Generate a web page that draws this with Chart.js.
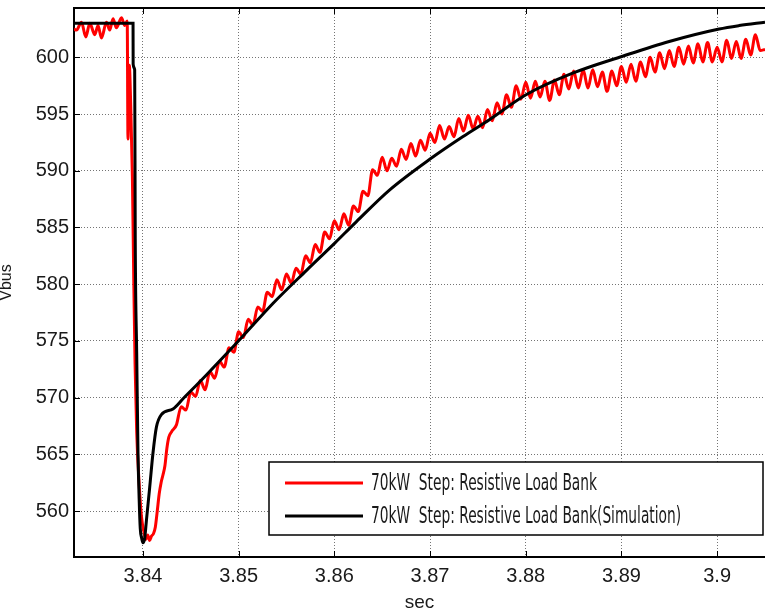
<!DOCTYPE html>
<html><head><meta charset="utf-8">
<script src="https://cdn.jsdelivr.net/npm/chart.js@4.4.1/dist/chart.umd.min.js"></script>
<style>html,body{margin:0;padding:0;background:#fff;}#wrap{width:765px;height:612px;}</style>
</head><body><div id="wrap"><canvas id="c" width="765" height="612"></canvas></div>
<script>
const xTickValues = [3.84, 3.85, 3.86, 3.87, 3.88, 3.89, 3.90];
const xTickLabels = ['3.84', '3.85', '3.86', '3.87', '3.88', '3.89', '3.9'];
const yTickValues = [560, 565, 570, 575, 580, 585, 590, 595, 600];
const seriesNames = ['70kW  Step: Resistive Load Bank', '70kW  Step: Resistive Load Bank(Simulation)'];
const xLabel = 'sec';
const yLabel = 'Vbus';

// measured (red)
const redTime = [3.8328, 3.83306, 3.83358, 3.83403, 3.83445, 3.83497, 3.83531, 3.83567, 3.83619, 3.83653,
  3.83688, 3.83723, 3.83776, 3.83810, 3.83836, 3.83844, 3.83858, 3.83872, 3.83890, 3.83905,
  3.83918, 3.83935, 3.83960, 3.83985, 3.84010, 3.84030, 3.84050, 3.84070, 3.84090, 3.84110,
  3.84130, 3.84150, 3.84170, 3.84190, 3.84210, 3.84230, 3.84250, 3.84270,
  3.8430, 3.8435, 3.8440, 3.8445, 3.8450, 3.8455, 3.8460, 3.8465, 3.8470, 3.8475,
  3.8480, 3.8485, 3.8490, 3.8495, 3.8500, 3.8505, 3.8510, 3.8515, 3.8520, 3.8525,
  3.8530, 3.8535, 3.8540, 3.8545, 3.8550, 3.8555, 3.8560, 3.8565, 3.8570, 3.8575,
  3.8580, 3.8585, 3.8590, 3.8595, 3.8600, 3.8605, 3.8610, 3.8615, 3.8620, 3.8625,
  3.8630, 3.8635, 3.8640, 3.8645, 3.8650, 3.8655, 3.8660, 3.8665, 3.8670, 3.8675,
  3.8680, 3.8685, 3.8690, 3.8695, 3.8700, 3.8705, 3.8710, 3.8715, 3.8720, 3.8725,
  3.8730, 3.8735, 3.8740, 3.8745, 3.8750, 3.8755, 3.8760, 3.8765, 3.8770, 3.8775,
  3.8780, 3.8785, 3.8790, 3.8795, 3.8800, 3.8805, 3.8810, 3.8815, 3.8820, 3.8825,
  3.8830, 3.8835, 3.8840, 3.8845, 3.8850, 3.8855, 3.8860, 3.8865, 3.8870, 3.8875,
  3.8880, 3.8885, 3.8890, 3.8895, 3.8900, 3.8905, 3.8910, 3.8915, 3.8920, 3.8925,
  3.8930, 3.8935, 3.8940, 3.8945, 3.8950, 3.8955, 3.8960, 3.8965, 3.8970, 3.8975,
  3.8980, 3.8985, 3.8990, 3.8995, 3.9000, 3.9005, 3.9010, 3.9015, 3.9020, 3.9025,
  3.9030, 3.9035, 3.9040, 3.9045, 3.9050];
const redVolt = [602.5, 602.4, 603.1, 601.8, 603.0, 602.0, 602.8, 601.7, 603.1, 602.4,
  603.4, 602.6, 603.5, 602.8, 603.2, 592.8, 599.3, 596.0, 589.5, 580.0,
  573.0, 567.0, 562.5, 559.5, 558.2, 557.5, 557.9, 557.4, 557.8, 558.0,
  558.6, 560.0, 561.5, 562.5, 563.2, 564.0, 565.5, 566.5,
  567.0, 567.6, 569.2, 568.9, 570.5, 570.1, 571.5, 570.7, 572.3, 571.7,
  573.2, 572.7, 574.4, 574.0, 575.8, 575.3, 576.9, 576.4, 578.0, 577.6,
  579.3, 578.9, 580.4, 579.5, 580.9, 580.1, 581.4, 580.9, 582.5, 581.9,
  583.5, 582.8, 584.6, 584.0, 585.6, 584.8, 586.2, 585.2, 586.9, 586.4,
  588.2, 587.8, 590.1, 589.6, 591.2, 590.0, 591.1, 590.4, 591.9, 591.0,
  592.4, 591.3, 592.7, 591.8, 593.3, 592.5, 594.0, 592.8, 593.9, 593.0,
  594.6, 593.5, 594.9, 593.7, 594.8, 593.8, 595.4, 594.4, 596.0, 595.0,
  596.7, 595.6, 597.5, 596.3, 597.8, 596.4, 597.9, 596.5, 597.9, 596.2,
  598.0, 596.7, 598.5, 597.2, 598.8, 597.3, 598.9, 597.3, 598.9, 597.4,
  598.7, 597.0, 598.8, 597.5, 599.2, 597.8, 599.4, 597.9, 599.6, 598.3,
  600.0, 598.7, 600.4, 599.0, 600.6, 599.2, 600.9, 599.4, 601.0, 599.5,
  601.2, 599.6, 601.3, 599.6, 600.9, 599.6, 601.5, 599.9, 601.4, 599.9,
  601.6, 600.2, 602.0, 600.6, 600.7];

// simulation (black)
const simTime = [3.8328, 3.83897, 3.83898, 3.83914, 3.83920, 3.83935, 3.83949, 3.83961, 3.83972, 3.83987,
  3.84000, 3.84019, 3.84037, 3.84071, 3.84105, 3.84141, 3.84193, 3.84314, 3.84419, 3.84663,
  3.85010, 3.85358, 3.85707, 3.86002, 3.86229, 3.86576, 3.87011, 3.87341, 3.87620, 3.88003,
  3.88490, 3.89012, 3.89499, 3.90021, 3.90230, 3.90500];
const simVolt = [603.0, 603.0, 599.4, 598.9, 584.0, 574.0, 565.0, 561.0, 558.5, 557.6,
  557.2, 557.6, 559.2, 562.1, 565.1, 567.4, 568.5, 569.0, 569.9, 572.0,
  575.1, 578.3, 581.2, 583.6, 585.5, 588.3, 591.1, 593.0, 594.5, 596.7,
  598.6, 600.1, 601.4, 602.5, 602.8, 603.1];

const toPts = (xs, ys) => xs.map((x, i) => ({x: x, y: ys[i]}));
const seriesColors = ['#ff0000', '#000000'];
const axisFont = {family: 'Liberation Sans, Arial, sans-serif', size: 20};

const framePlugin = {
  id: 'frame',
  afterDraw(chart) {
    const ctx = chart.ctx, a = chart.chartArea;
    const xs = chart.scales.x, ys = chart.scales.y;
    ctx.save();
    ctx.strokeStyle = '#000'; ctx.lineWidth = 2;
    ctx.beginPath(); ctx.moveTo(a.left - 1, a.top); ctx.lineTo(a.right, a.top); ctx.stroke();
    ctx.lineWidth = 1;
    ctx.beginPath();
    xTickValues.forEach(v => {
      const px = Math.round(xs.getPixelForValue(v)) + 0.5;
      ctx.moveTo(px, a.bottom); ctx.lineTo(px, a.bottom - 6);
      ctx.moveTo(px, a.top); ctx.lineTo(px, a.top + 6);
    });
    yTickValues.forEach(v => {
      const py = Math.round(ys.getPixelForValue(v)) + 0.5;
      ctx.moveTo(a.left, py); ctx.lineTo(a.left + 6, py);
    });
    ctx.stroke();
    const bx = 269, by = 462, bw = 494, bh = 73;
    ctx.fillStyle = '#fff'; ctx.fillRect(bx, by, bw, bh);
    ctx.strokeStyle = '#000'; ctx.lineWidth = 1.5; ctx.strokeRect(bx, by, bw, bh);
    const rowsY = [483, 516];
    ctx.font = '23px "Liberation Sans Narrow", "DejaVu Sans Condensed", sans-serif';
    const sx = 226 / ctx.measureText(seriesNames[0]).width;
    seriesNames.forEach((name, i) => {
      ctx.strokeStyle = seriesColors[i]; ctx.lineWidth = 3;
      ctx.beginPath(); ctx.moveTo(285, rowsY[i]); ctx.lineTo(363, rowsY[i]); ctx.stroke();
      ctx.save();
      ctx.translate(371, rowsY[i] + 1);
      ctx.scale(sx, 1);
      ctx.fillStyle = '#1a1a1a'; ctx.textBaseline = 'middle'; ctx.textAlign = 'left';
      ctx.fillText(name, 0, 0);
      ctx.restore();
    });
    ctx.restore();
  }
};

new Chart(document.getElementById('c'), {
  type: 'line',
  data: {
    datasets: [
      {label: seriesNames[0], data: toPts(redTime, redVolt), borderColor: seriesColors[0], borderWidth: 3,
       pointRadius: 0, cubicInterpolationMode: 'monotone', order: 2},
      {label: seriesNames[1], data: toPts(simTime, simVolt), borderColor: seriesColors[1], borderWidth: 3,
       pointRadius: 0, cubicInterpolationMode: 'monotone', order: 1}
    ]
  },
  options: {
    responsive: false, animation: false, devicePixelRatio: 1,
    layout: {padding: {top: 8, right: 0, bottom: 0, left: 0}},
    plugins: {legend: {display: false}, tooltip: {enabled: false}},
    scales: {
      x: {
        type: 'linear', min: 3.8328, max: 3.9050,
        afterBuildTicks: s => { s.ticks = xTickValues.map(v => ({value: v})); },
        afterFit: s => { s.height = 55; s.paddingLeft = 0; s.paddingRight = 0; },
        ticks: {callback: v => xTickLabels[xTickValues.indexOf(v)], font: axisFont,
                color: '#1a1a1a', padding: 7, maxRotation: 0, autoSkip: false},
        grid: {color: 'rgba(70,70,70,0.75)', lineWidth: 1, drawTicks: false},
        border: {display: true, color: '#000', width: 2, dash: [1, 2]},
        title: {display: true, text: xLabel, font: {family: 'Liberation Sans, Arial, sans-serif', size: 19}, color: '#1a1a1a', padding: {top: 0, bottom: -2}}
      },
      y: {
        type: 'linear', min: 555.95, max: 604.35,
        afterBuildTicks: s => { s.ticks = yTickValues.map(v => ({value: v})); },
        afterFit: s => { s.width = 74; s.paddingTop = 0; s.paddingBottom = 0; },
        ticks: {callback: v => String(v), font: axisFont,
                color: '#1a1a1a', padding: 5, autoSkip: false},
        grid: {color: 'rgba(70,70,70,0.75)', lineWidth: 1, drawTicks: false},
        border: {display: true, color: '#000', width: 2, dash: [1, 2]},
        title: {display: true, text: yLabel, font: {family: 'Liberation Sans, Arial, sans-serif', size: 16}, color: '#1a1a1a', padding: {top: -3, bottom: 0}}
      }
    }
  },
  plugins: [framePlugin]
});
</script>
</body></html>
